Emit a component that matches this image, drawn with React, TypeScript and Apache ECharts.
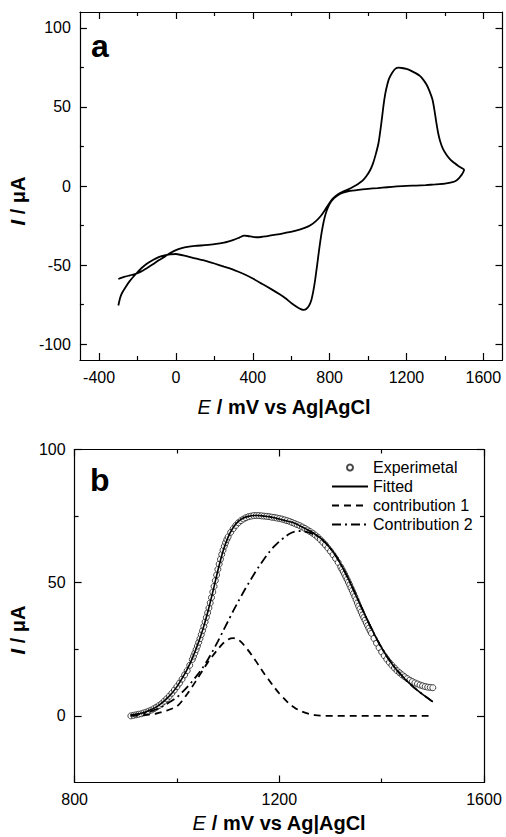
import React, { useEffect, useRef } from "react";
import * as echarts from "echarts";

const FONT = '"Liberation Sans", Arial, Helvetica, sans-serif';

// ---------- Panel a: cyclic voltammogram ----------
const cvForward: [number, number][] = [
  [-300, -58.8], [-270, -57.5], [-240, -56.5], [-210, -55.5], [-180, -54.0], [-150, -51.8],
  [-120, -49.5], [-90, -47.0], [-60, -44.8], [-30, -42.4], [0, -40.5], [30, -39.3], [60, -38.5],
  [100, -37.9], [150, -37.4], [200, -36.8], [250, -35.8], [300, -34.0], [330, -32.6], [355, -31.4],
  [375, -31.6], [400, -32.2], [430, -32.4], [470, -31.8], [520, -30.8], [570, -29.6], [620, -28.3],
  [670, -26.5], [700, -24.8], [730, -22.0], [755, -18.8], [775, -15.3], [795, -11.5], [815, -8.2],
  [840, -5.5], [870, -3.5], [900, -2.0], [930, 0.0], [950, 1.5], [970, 3.2], [990, 6.0], [1010, 9.8],
  [1025, 14.0], [1040, 20.0], [1055, 27.5], [1070, 40.5], [1080, 50.5], [1090, 58.5], [1100, 64.0],
  [1110, 68.0], [1125, 71.5], [1143, 74.2], [1160, 74.8], [1176, 74.6], [1200, 74.0], [1225, 72.8],
  [1250, 71.2], [1270, 69.6], [1290, 66.8], [1305, 64.0], [1320, 60.0], [1335, 54.8], [1345, 48.5],
  [1355, 40.5], [1365, 33.5], [1375, 28.5], [1390, 23.5], [1410, 19.5], [1430, 16.5], [1450, 14.5],
  [1470, 12.7], [1490, 11.2], [1500, 10.3],
];
const cvReverse: [number, number][] = [
  [1495, 8.6], [1488, 7.2], [1475, 5.2], [1460, 3.5], [1440, 2.4], [1400, 1.5], [1350, 1.0],
  [1300, 0.6], [1250, 0.3], [1200, 0.1], [1150, -0.3], [1100, -0.8], [1050, -1.3], [1000, -1.8],
  [950, -2.4], [900, -3.2], [870, -4.2], [845, -5.6], [825, -7.5], [810, -9.5], [797, -12.0],
  [785, -15.5], [775, -19.5], [765, -25.0], [755, -32.0], [745, -40.5], [735, -50.0], [725, -59.0],
  [715, -66.5], [705, -72.0], [692, -75.8], [678, -77.8], [665, -78.3], [650, -77.8], [630, -76.5],
  [600, -74.0], [570, -71.0], [540, -68.5], [500, -65.5], [450, -62.0], [400, -58.5], [350, -55.5],
  [300, -53.0], [250, -51.0], [200, -49.0], [150, -47.2], [100, -45.8], [50, -44.2], [0, -43.0],
  [-30, -43.2], [-60, -43.8], [-90, -45.0], [-120, -46.8], [-150, -49.0], [-180, -52.0],
  [-210, -55.8], [-240, -60.0], [-260, -63.5], [-280, -67.5], [-290, -70.5], [-300, -75.5],
];

const aXLabels = [-400, 0, 400, 800, 1200, 1600];
const aXMinor = [-200, 200, 600, 1000, 1400];
const aYLabels = [-100, -50, 0, 50, 100];
const aYMinor = [-75, -25, 25, 75];

// ---------- Panel b: peak deconvolution ----------
const experimental: [number, number][] = [
  [910, 0.0], [915, 0.2], [920, 0.4], [925, 0.6], [930, 0.8], [935, 1.1], [940, 1.4], [945, 1.8],
  [950, 2.2], [955, 2.7], [960, 3.3], [965, 3.9], [970, 4.6], [975, 5.5], [980, 6.4], [985, 7.4],
  [990, 8.5], [995, 9.7], [1000, 11.0], [1005, 12.3], [1010, 13.8], [1015, 15.4], [1020, 17.0],
  [1025, 19.0], [1030, 21.2], [1032.5, 22.4], [1035, 23.6], [1037.5, 24.9], [1040, 26.2],
  [1042.5, 27.6], [1045, 29.0], [1047.5, 30.5], [1050, 32.0], [1052.5, 33.6], [1055, 35.3],
  [1057.5, 37.0], [1060, 38.7], [1062.5, 40.5], [1065, 42.4], [1067.5, 44.4], [1070, 46.5],
  [1072.5, 48.6], [1075, 50.8], [1077.5, 52.9], [1080, 55.0], [1082.5, 57.0], [1085, 58.8],
  [1087.5, 60.6], [1090, 62.2], [1092.5, 63.7], [1095, 65.0], [1097.5, 66.2], [1100, 67.2],
  [1105, 68.9], [1110, 70.3], [1115, 71.5], [1120, 72.5], [1125, 73.3], [1130, 73.9], [1135, 74.4],
  [1140, 74.8], [1145, 75.0], [1150, 75.2], [1155, 75.2], [1160, 75.2], [1165, 75.1], [1170, 75.0],
  [1175, 74.9], [1180, 74.8], [1185, 74.6], [1190, 74.5], [1195, 74.3], [1200, 74.1], [1205, 73.9],
  [1210, 73.6], [1215, 73.3], [1220, 73.0], [1225, 72.6], [1230, 72.2], [1235, 71.8], [1240, 71.4],
  [1245, 70.9], [1250, 70.4], [1255, 69.8], [1260, 69.2], [1265, 68.6], [1270, 67.9], [1275, 67.1],
  [1280, 66.2], [1285, 65.2], [1290, 64.2], [1295, 63.0], [1300, 61.8], [1305, 60.5], [1310, 59.1],
  [1315, 57.6], [1320, 55.9], [1322.5, 55.0], [1325, 54.1], [1327.5, 53.2], [1330, 52.2],
  [1332.5, 51.2], [1335, 50.2], [1337.5, 49.2], [1340, 48.1], [1342.5, 47.0], [1345, 45.9],
  [1347.5, 44.8], [1350, 43.6], [1352.5, 42.4], [1355, 41.2], [1357.5, 40.1], [1360, 39.0],
  [1362.5, 37.9], [1365, 36.9], [1367.5, 35.9], [1370, 34.9], [1372.5, 33.9], [1375, 32.9],
  [1377.5, 31.9], [1380, 31.0], [1385, 29.1], [1390, 27.3], [1395, 25.6], [1400, 24.0], [1405, 22.6],
  [1410, 21.3], [1415, 20.1], [1420, 19.0], [1425, 18.0], [1430, 17.0], [1435, 16.2], [1440, 15.4],
  [1445, 14.7], [1450, 14.0], [1455, 13.4], [1460, 12.9], [1465, 12.4], [1470, 12.0], [1475, 11.6],
  [1480, 11.3], [1485, 11.0], [1490, 10.8], [1495, 10.7], [1500, 10.6],
];

const fitPotential = [
  910, 920, 930, 940, 950, 960, 970, 980, 990, 1000, 1010, 1020, 1030, 1040, 1050, 1060, 1070, 1080,
  1090, 1100, 1110, 1120, 1130, 1140, 1150, 1160, 1170, 1180, 1190, 1200, 1210, 1220, 1230, 1240,
  1250, 1260, 1270, 1280, 1290, 1300, 1310, 1320, 1330, 1340, 1350, 1360, 1370, 1380, 1390, 1400,
  1410, 1420, 1430, 1440, 1450, 1460, 1470, 1480, 1490, 1500,
];
const fittedCurrent = [
  0.3, 0.6, 1.0, 1.6, 2.4, 3.4, 4.8, 6.5, 8.5, 11.0, 14.1, 17.5, 21.6, 26.5, 32.1, 38.8, 46.5, 54.6,
  61.8, 67.1, 70.7, 73.0, 74.3, 74.9, 75.2, 75.2, 75.0, 74.8, 74.4, 73.9, 73.4, 72.9, 72.3, 71.4,
  70.4, 69.4, 68.2, 66.8, 65.0, 62.8, 60.2, 57.0, 53.4, 49.4, 45.2, 41.0, 36.8, 32.8, 29.0, 25.5,
  22.4, 19.6, 17.1, 15.0, 13.0, 11.2, 9.6, 8.1, 6.7, 5.3,
];
const contribution1 = [
  0, 0.1, 0.2, 0.4, 0.6, 0.9, 1.4, 2.0, 2.7, 3.6, 5.6, 8.2, 11.0, 14.0, 17.0, 20.0, 22.6, 25.0,
  27.2, 28.7, 29.2, 28.6, 26.8, 24.4, 21.8, 18.9, 16.0, 13.4, 10.8, 8.4, 6.4, 4.5, 3.1, 2.0,
  1.2, 0.7, 0.3, 0.1, 0, 0, 0, 0, 0, 0, 0, 0, 0, 0, 0, 0,
  0, 0, 0, 0, 0, 0, 0, 0, 0, 0,
];
const contribution2 = [
  0.3, 0.5, 0.8, 1.2, 1.8, 2.5, 3.4, 4.5, 5.7, 7.0, 8.8, 10.8, 13.0, 15.4, 18.0, 21.0, 24.4, 28.0,
  31.8, 35.6, 39.4, 43.0, 46.5, 49.8, 53.0, 56.0, 58.8, 61.4, 63.6, 65.5, 67.0, 68.4, 69.2, 69.4,
  69.2, 68.7, 67.9, 66.7, 65.0, 62.8, 60.2, 57.0, 53.4, 49.4, 45.2, 41.0, 36.8, 32.8, 29.0, 25.5,
  22.4, 19.6, 17.1, 15.0, 13.0, 11.2, 9.6, 8.1, 6.7, 5.3,
];

const bXLabels = [800, 1200, 1600];
const bXMinor = [1000, 1400];
const bYLabels = [0, 50, 100];
const bYMinor = [25, 75];

const seriesNames = ["Experimetal", "Fitted", "contribution 1", "Contribution 2"];

const LINE = { color: "#000", width: 1.2 };

function axisGroup(
  gridIndex: number,
  mainPos: string,
  mirrorPos: string,
  min: number,
  max: number,
  majors: number[],
  minors: number[],
  name: string,
  nameGap: number,
  labelMargin: number,
  rich: any,
  namePadding: number[]
) {
  const base = {
    type: "value",
    gridIndex,
    min,
    max,
    splitLine: { show: false },
  };
  const tickMajor = { show: true, inside: true, length: 7, customValues: majors, lineStyle: LINE };
  const tickMinor = { show: true, inside: true, length: 4, customValues: minors, lineStyle: LINE };
  return [
    {
      ...base,
      position: mainPos,
      axisLine: { show: true, onZero: false, lineStyle: LINE },
      axisTick: tickMajor,
      axisLabel: {
        show: true,
        customValues: majors,
        margin: labelMargin,
        fontSize: 16,
        color: "#000",
        fontFamily: FONT,
        formatter: (v: number) => String(v),
      },
      name,
      nameLocation: "middle",
      nameGap,
      nameTextStyle: {
        fontSize: 20,
        fontWeight: "bold",
        fontFamily: FONT,
        color: "#000",
        padding: namePadding,
        rich,
      },
    },
    {
      ...base,
      position: mirrorPos,
      axisLine: { show: true, onZero: false, lineStyle: LINE },
      axisTick: tickMajor,
      axisLabel: { show: false },
    },
    {
      ...base,
      position: mainPos,
      axisLine: { show: false, onZero: false },
      axisTick: tickMinor,
      axisLabel: { show: false },
    },
    {
      ...base,
      position: mirrorPos,
      axisLine: { show: false, onZero: false },
      axisTick: tickMinor,
      axisLabel: { show: false },
    },
  ];
}

const xRich = {
  it: { fontStyle: "italic", fontWeight: "normal", fontSize: 20, fontFamily: FONT, color: "#000" },
};
const yRich = {
  it: { fontStyle: "italic", fontWeight: "bold", fontSize: 20, fontFamily: FONT, color: "#000" },
};

export default function App() {
  const ref = useRef<HTMLDivElement>(null);

  useEffect(() => {
    if (!ref.current) return;
    const chart = echarts.init(ref.current, undefined, { renderer: "svg" });

    const xAxes = [
      ...axisGroup(0, "bottom", "top", -500, 1700, aXLabels, aXMinor, "{it|E} / mV vs Ag|AgCl", 37, 9, xRich, [0, 14, 0, 0]),
      ...axisGroup(1, "bottom", "top", 800, 1600, bXLabels, bXMinor, "{it|E} / mV vs Ag|AgCl", 30, 9, xRich, [0, 0, 0, 0]),
    ];
    const yAxes = [
      ...axisGroup(0, "left", "right", -110, 110, aYLabels, aYMinor, "{it|I} / μA", 40, 9, yRich, [0, 30, 0, 0]),
      ...axisGroup(1, "left", "right", -25, 100, bYLabels, bYMinor, "{it|I} / μA", 41, 9, yRich, [0, 28, 0, 0]),
    ];

    const fitPairs = (vals: number[]) => fitPotential.map((e, i) => [e, vals[i]]);
    const hiddenSymbol = { opacity: 0 };

    const option: any = {
      animation: false,
      backgroundColor: "#fff",
      grid: [
        { left: 69, top: 12, width: 433.5, height: 348 },
        { left: 70.5, top: 449.5, width: 413.5, height: 333 },
      ],
      xAxis: xAxes,
      yAxis: yAxes,
      legend: {
        orient: "vertical",
        left: 331,
        top: 458,
        padding: 0,
        itemWidth: 36,
        itemHeight: 6,
        itemGap: 0,
        selectedMode: false,
        textStyle: { fontSize: 16, lineHeight: 19, color: "#000", fontFamily: FONT },
        data: [
          { name: seriesNames[0] },
          { name: seriesNames[1], itemStyle: hiddenSymbol },
          { name: seriesNames[2], itemStyle: hiddenSymbol },
          { name: seriesNames[3], itemStyle: hiddenSymbol },
        ],
      },
      graphic: [
        {
          type: "text",
          x: 91,
          y: 46,
          style: { text: "a", fontSize: 32, fontWeight: "bold", fontFamily: FONT, fill: "#000", verticalAlign: "middle" },
        },
        {
          type: "text",
          x: 90,
          y: 479.5,
          style: { text: "b", fontSize: 32, fontWeight: "bold", fontFamily: FONT, fill: "#000", verticalAlign: "middle" },
        },
      ],
      series: [
        {
          type: "line",
          xAxisIndex: 0,
          yAxisIndex: 0,
          data: [...cvForward, ...cvReverse],
          symbol: "none",
          smooth: 0.2,
          lineStyle: { color: "#000", width: 1.8 },
        },
        {
          name: seriesNames[0],
          type: "scatter",
          xAxisIndex: 4,
          yAxisIndex: 4,
          data: experimental,
          symbol: "circle",
          symbolSize: 6,
          itemStyle: { color: "#fff", borderColor: "#1a1a1a", borderWidth: 1 },
          z: 2,
        },
        {
          name: seriesNames[1],
          type: "line",
          xAxisIndex: 4,
          yAxisIndex: 4,
          data: fitPairs(fittedCurrent),
          symbol: "none",
          smooth: 0.3,
          itemStyle: { color: "#000" },
          lineStyle: { color: "#000", width: 1.6, type: "solid" },
          z: 3,
        },
        {
          name: seriesNames[2],
          type: "line",
          xAxisIndex: 4,
          yAxisIndex: 4,
          data: fitPairs(contribution1),
          symbol: "none",
          smooth: 0.3,
          itemStyle: { color: "#000" },
          lineStyle: { color: "#000", width: 1.8, type: [7, 5] },
          z: 3,
        },
        {
          name: seriesNames[3],
          type: "line",
          xAxisIndex: 4,
          yAxisIndex: 4,
          data: fitPairs(contribution2),
          symbol: "none",
          smooth: 0.3,
          itemStyle: { color: "#000" },
          lineStyle: { color: "#000", width: 1.8, type: [9, 4, 2, 4] },
          z: 3,
        },
      ],
    };

    chart.setOption(option);
    return () => chart.dispose();
  }, []);

  return (
    <div
      ref={ref}
      style={{ position: "absolute", left: 0, top: 0, width: 506, height: 837, background: "#fff" }}
    />
  );
}
